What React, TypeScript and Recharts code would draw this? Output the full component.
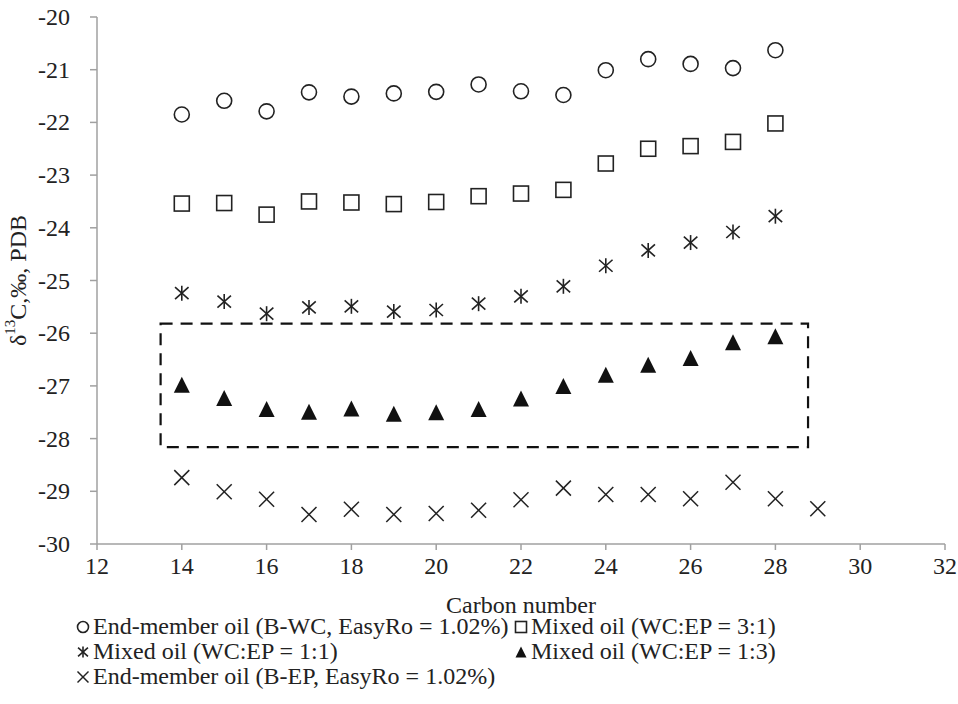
import {
  Legend,
  ReferenceArea,
  Scatter,
  ScatterChart,
  XAxis,
  YAxis,
} from "recharts";

const carbonNumbers = [14, 15, 16, 17, 18, 19, 20, 21, 22, 23, 24, 25, 26, 27, 28];
const carbonNumbersEp = [14, 15, 16, 17, 18, 19, 20, 21, 22, 23, 24, 25, 26, 27, 28, 29];

const wcOil = [-21.85, -21.59, -21.79, -21.43, -21.51, -21.45, -21.42, -21.28, -21.41, -21.48, -21.01, -20.8, -20.89, -20.97, -20.63];
const mixed31 = [-23.54, -23.53, -23.75, -23.5, -23.52, -23.55, -23.51, -23.4, -23.35, -23.28, -22.78, -22.5, -22.45, -22.37, -22.02];
const mixed11 = [-25.24, -25.4, -25.63, -25.51, -25.49, -25.59, -25.56, -25.44, -25.3, -25.11, -24.72, -24.43, -24.28, -24.08, -23.78];
const mixed13 = [-26.98, -27.23, -27.44, -27.49, -27.43, -27.53, -27.5, -27.44, -27.24, -27.0, -26.79, -26.6, -26.47, -26.17, -26.06];
const epOil = [-28.74, -29.01, -29.15, -29.44, -29.34, -29.44, -29.42, -29.36, -29.16, -28.94, -29.06, -29.06, -29.14, -28.83, -29.14, -29.33];

const xTicks = [12, 14, 16, 18, 20, 22, 24, 26, 28, 30, 32];
const yTicks = [-30, -29, -28, -27, -26, -25, -24, -23, -22, -21, -20];

// dashed box around the 1:3 series
const boxX = [13.5, 28.77];
const boxY = [-28.16, -25.82];

const seriesNames = [
  "End-member oil (B-WC, EasyRo = 1.02%)",
  "Mixed oil (WC:EP = 3:1)",
  "Mixed oil (WC:EP = 1:1)",
  "Mixed oil (WC:EP = 1:3)",
  "End-member oil (B-EP, EasyRo = 1.02%)",
];

const FONT = "'Liberation Serif', 'Times New Roman', serif";
const FS = 24;
const INK = "#222";

const toPoints = (xs: number[], ys: number[]) => ys.map((y, i) => ({ x: xs[i], y }));

type MarkerKind = "circle" | "square" | "star" | "triangle" | "cross";

function Marker({ kind, cx, cy, s }: { kind: MarkerKind; cx: number; cy: number; s: number }) {
  const h = s / 2;
  switch (kind) {
    case "circle":
      return <circle cx={cx} cy={cy} r={h} fill="none" stroke={INK} strokeWidth={1.6} />;
    case "square":
      return <rect x={cx - h} y={cy - h} width={s} height={s} fill="none" stroke={INK} strokeWidth={1.6} />;
    case "star":
      return (
        <g stroke={INK} strokeWidth={1.6}>
          <line x1={cx} y1={cy - h} x2={cx} y2={cy + h} />
          <line x1={cx - h * 0.9} y1={cy - h * 0.8} x2={cx + h * 0.9} y2={cy + h * 0.8} />
          <line x1={cx - h * 0.9} y1={cy + h * 0.8} x2={cx + h * 0.9} y2={cy - h * 0.8} />
        </g>
      );
    case "triangle":
      return <polygon points={`${cx},${cy - h} ${cx - h},${cy + h} ${cx + h},${cy + h}`} fill="#111" />;
    default:
      return (
        <g stroke={INK} strokeWidth={1.5}>
          <line x1={cx - h} y1={cy - h} x2={cx + h} y2={cy + h} />
          <line x1={cx - h} y1={cy + h} x2={cx + h} y2={cy - h} />
        </g>
      );
  }
}

const markerKinds: MarkerKind[] = ["circle", "square", "star", "triangle", "cross"];
const markerSizes = [15, 15, 15, 16, 15];

const shapeFor = (i: number) => (props: any) =>
  <Marker kind={markerKinds[i]} cx={props.cx} cy={props.cy} s={markerSizes[i]} />;

function XTick({ x, y, payload }: any) {
  return (
    <text x={x} y={y} dy="0.75em" textAnchor="middle" fontFamily={FONT} fontSize={FS} fill={INK}>
      {payload.value}
    </text>
  );
}

function YTick({ x, y, payload }: any) {
  return (
    <text x={x} y={y} textAnchor="end" dominantBaseline="central" fontFamily={FONT} fontSize={FS} fill={INK}>
      {payload.value}
    </text>
  );
}

function YLabel({ viewBox }: any) {
  const cx = viewBox.x + 18;
  const cy = viewBox.y + viewBox.height / 2;
  return (
    <text
      x={cx}
      y={cy}
      transform={`rotate(-90, ${cx}, ${cy})`}
      textAnchor="middle"
      dominantBaseline="central"
      fontFamily={FONT}
      fontSize={FS}
      fill={INK}
    >
      δ<tspan dy={-8} fontSize={15}>13</tspan>
      <tspan dy={8}>C,‰, PDB</tspan>
    </text>
  );
}

function XLabel({ viewBox }: any) {
  return (
    <text
      x={viewBox.x + viewBox.width / 2}
      y={viewBox.y + 61}
      textAnchor="middle"
      dominantBaseline="central"
      fontFamily={FONT}
      fontSize={FS}
      fill={INK}
    >
      Carbon number
    </text>
  );
}

function LegendBox() {
  return (
    <div
      style={{
        display: "grid",
        gridTemplateColumns: "438px auto",
        fontFamily: FONT,
        fontSize: FS,
        color: INK,
        lineHeight: "25px",
        whiteSpace: "nowrap",
      }}
    >
      {seriesNames.map((name, i) => (
        <div key={name} style={{ display: "flex", alignItems: "center" }}>
          <svg width={14} height={14} style={{ marginRight: 3 }}>
            <Marker kind={markerKinds[i]} cx={7} cy={7} s={11} />
          </svg>
          {name}
        </div>
      ))}
    </div>
  );
}

export default function App() {
  const series = [
    toPoints(carbonNumbers, wcOil),
    toPoints(carbonNumbers, mixed31),
    toPoints(carbonNumbers, mixed11),
    toPoints(carbonNumbers, mixed13),
    toPoints(carbonNumbersEp, epOil),
  ];

  return (
    <div style={{ position: "absolute", left: 0, top: 0, width: 958, height: 704, background: "#fff" }}>
      <ScatterChart width={958} height={704} margin={{ top: 17, right: 13, bottom: 80, left: 0 }}>
        <XAxis
          type="number"
          dataKey="x"
          domain={[12, 32]}
          ticks={xTicks}
          allowDataOverflow
          stroke="#a0a0a0"
          strokeWidth={1.5}
          tickSize={6}
          tickMargin={6}
          height={80}
          tick={<XTick />}
          label={<XLabel />}
        />
        <YAxis
          type="number"
          dataKey="y"
          domain={[-30, -20]}
          ticks={yTicks}
          allowDataOverflow
          stroke="#a0a0a0"
          strokeWidth={1.5}
          tickSize={7}
          tickMargin={20}
          width={97}
          tick={<YTick />}
          label={<YLabel />}
        />
        <ReferenceArea
          x1={boxX[0]}
          x2={boxX[1]}
          y1={boxY[0]}
          y2={boxY[1]}
          fill="none"
          stroke="#111"
          strokeWidth={2.2}
          strokeDasharray="12 8"
          ifOverflow="visible"
        />
        {series.map((pts, i) => (
          <Scatter
            key={seriesNames[i]}
            name={seriesNames[i]}
            data={pts}
            shape={shapeFor(i)}
            isAnimationActive={false}
          />
        ))}
        <Legend
          verticalAlign="middle"
          layout="horizontal"
          content={<LegendBox />}
          wrapperStyle={{ top: 614, left: 76, width: 760 }}
        />
      </ScatterChart>
    </div>
  );
}
